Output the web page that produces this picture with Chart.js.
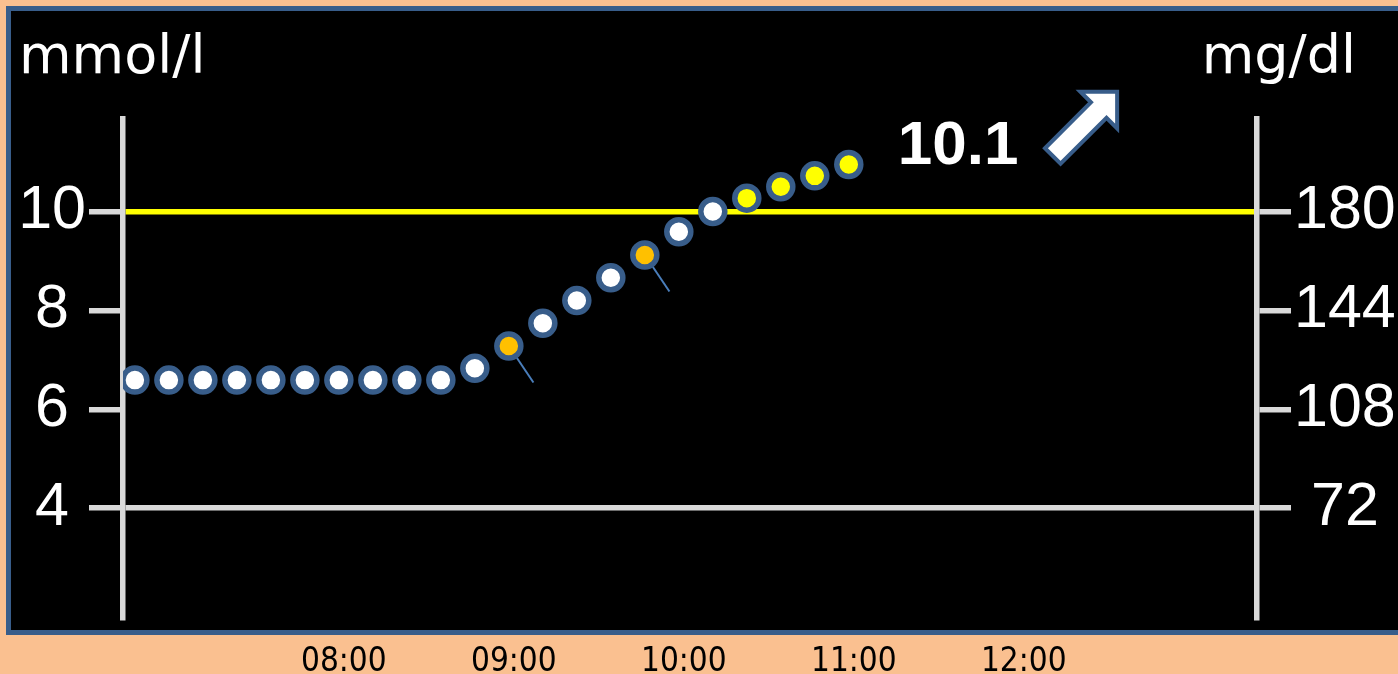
<!DOCTYPE html>
<html>
<head>
<meta charset="utf-8">
<script src="https://cdn.jsdelivr.net/npm/chart.js@4.4.1/dist/chart.umd.min.js"></script>
<style>
  html, body { margin: 0; padding: 0; background: #FAC090; }
  body { width: 1398px; height: 674px; position: relative; overflow: hidden; }
  #panel { position: absolute; left: 6px; top: 6px; width: 1410px; height: 629px; box-sizing: border-box;
           background: #000; border: 5px solid #385D8A; }
  #stage { position: absolute; left: 0; top: 0; }
</style>
</head>
<body>
<div id="panel"></div>
<canvas id="stage" width="1398" height="674"></canvas>
<script>
// readings (mmol/l), one every 12 minutes
const times = ['06:48', '07:00', '07:12', '07:24', '07:36', '07:48', '08:00', '08:12', '08:24', '08:36', '08:48',
               '09:00', '09:12', '09:24', '09:36', '09:48', '10:00', '10:12', '10:24', '10:36', '10:48', '11:00'];
const glucose = [6.59, 6.59, 6.59, 6.59, 6.59, 6.59, 6.59, 6.59, 6.59, 6.59, 6.83,
                 7.28, 7.74, 8.20, 8.66, 9.12, 9.59, 10.0, 10.27, 10.50, 10.72, 10.95];
const markedTimes = ['09:00', '09:48'];   // orange points with a pointer line
const leftTicks = [4, 6, 8, 10];
const rightTicks = [72, 108, 144, 180];
const hourTicks = ['08:00', '09:00', '10:00', '11:00', '12:00'];
const highLimit = 10;
const lowLimit = 4;
const currentValue = '10.1';
const leftUnit = 'mmol/l';
const rightUnit = 'mg/dl';
const MGDL = 18;

const yMin = 1.78, yMax = 11.87;

function toMin(s) {
  var p = s.split(':');
  return (+p[0]) * 60 + (+p[1]);
}
function fmt(m) {
  var h = Math.floor(m / 60), mm = m % 60;
  return (h < 10 ? '0' : '') + h + ':' + (mm < 10 ? '0' : '') + mm;
}

const points = times.map((t, i) => ({ x: toMin(t), y: glucose[i] }));
const fills = times.map((t, i) => markedTimes.includes(t) ? '#FFC000' : (glucose[i] > highLimit ? '#FFFF00' : '#FFFFFF'));

const GREY = '#D9D9D9';
const tickFont = { family: '"Liberation Sans", Arial, sans-serif', size: 61 };

const extras = {
  id: 'extras',
  beforeDatasetsDraw(chart) {
    const ctx = chart.ctx;
    const meta = chart.getDatasetMeta(0);
    const a = 56 * Math.PI / 180;
    ctx.save();
    ctx.strokeStyle = '#4A7EBB';
    ctx.lineWidth = 2;
    times.forEach((t, i) => {
      if (!markedTimes.includes(t)) return;
      const el = meta.data[i];
      ctx.beginPath();
      ctx.moveTo(el.x + 13 * Math.cos(a), el.y + 13 * Math.sin(a));
      ctx.lineTo(el.x + 44 * Math.cos(a), el.y + 44 * Math.sin(a));
      ctx.stroke();
    });
    ctx.restore();
  },
  afterDraw(chart) {
    const ctx = chart.ctx;
    const meta = chart.getDatasetMeta(0);
    const last = meta.data[meta.data.length - 1];
    ctx.save();
    ctx.fillStyle = '#fff';
    ctx.textBaseline = 'alphabetic';
    ctx.font = '54px "DejaVu Sans", sans-serif';
    ctx.textAlign = 'left';
    ctx.fillText(leftUnit, 19, 73);
    ctx.textAlign = 'right';
    ctx.fillText(rightUnit, 1356, 73);

    ctx.textAlign = 'left';
    ctx.font = 'bold 62px "Liberation Sans", Arial, sans-serif';
    ctx.fillText(currentValue, last.x + 49, last.y);

    // trend arrow
    const L = 91, hl = 26, hw = 26, sw = 11;
    ctx.translate(last.x + 204, last.y - 8.5);
    ctx.rotate(-Math.PI / 4);
    ctx.beginPath();
    ctx.moveTo(0, -sw);
    ctx.lineTo(L - hl, -sw);
    ctx.lineTo(L - hl, -hw);
    ctx.lineTo(L, 0);
    ctx.lineTo(L - hl, hw);
    ctx.lineTo(L - hl, sw);
    ctx.lineTo(0, sw);
    ctx.closePath();
    ctx.fillStyle = '#fff';
    ctx.fill();
    ctx.lineJoin = 'miter';
    ctx.lineWidth = 4;
    ctx.strokeStyle = '#385D8A';
    ctx.stroke();
    ctx.restore();
  }
};

var chart = new Chart(document.getElementById('stage'), {
  type: 'scatter',
  data: {
    datasets: [{
      data: points,
      showLine: false,
      pointRadius: 12,
      pointBorderWidth: 5.5,
      pointBorderColor: '#385D8A',
      pointBackgroundColor: fills,
      yAxisID: 'y'
    }]
  },
  plugins: [extras],
  options: {
    responsive: false,
    animation: false,
    layout: { padding: { top: 119, left: 0, right: 0, bottom: 0 } },
    plugins: {
      legend: { display: false },
      tooltip: { enabled: false }
    },
    scales: {
      x: {
        type: 'linear',
        position: 'bottom',
        min: 403.8,
        max: 804.1,
        afterBuildTicks: s => { s.ticks = hourTicks.map(h => ({ value: toMin(h) })); },
        afterFit: s => { s.height = 56; },
        grid: { display: false, drawTicks: false },
        border: { display: false },
        ticks: {
          callback: v => fmt(v),
          color: '#000',
          font: { family: '"Liberation Sans Narrow", "DejaVu Sans Condensed", sans-serif', size: 33 },
          padding: 25,
          labelOffset: 5,
          autoSkip: false,
          maxRotation: 0
        }
      },
      y: {
        position: 'left',
        min: yMin,
        max: yMax,
        afterBuildTicks: s => { s.ticks = leftTicks.map(v => ({ value: v })); },
        afterFit: s => { s.width = 123; },
        grid: {
          color: c => c.tick && c.tick.value === highLimit ? '#FFFF00' : (c.tick && c.tick.value === lowLimit ? GREY : 'rgba(0,0,0,0)'),
          tickColor: GREY,
          lineWidth: 5.5,
          tickLength: 34
        },
        border: { color: GREY, width: 5.5 },
        ticks: { crossAlign: 'center', color: '#fff', font: tickFont, padding: 3 }
      },
      y2: {
        position: 'right',
        min: yMin * MGDL,
        max: yMax * MGDL,
        afterBuildTicks: s => { s.ticks = rightTicks.map(v => ({ value: v })); },
        afterFit: s => { s.width = 141; },
        grid: { drawOnChartArea: false, color: GREY, lineWidth: 5.5, tickLength: 34 },
        border: { color: GREY, width: 5.5 },
        ticks: { crossAlign: 'center', color: '#fff', font: tickFont, padding: 3 }
      }
    }
  }
});
</script>
</body>
</html>
